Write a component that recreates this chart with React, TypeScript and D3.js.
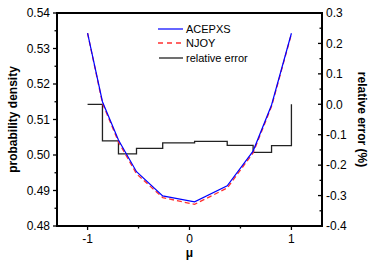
import React from "react";
import * as d3 from "d3";

const W = 378;
const H = 265;

const mu = [-1, -0.854, -0.697, -0.52, -0.263, 0.05, 0.37, 0.624, 0.805, 1];
const acepxs = [0.5343, 0.515, 0.5042, 0.4953, 0.4885, 0.4868, 0.4913, 0.5011, 0.5141, 0.5343];
const njoy = [0.5343, 0.5146, 0.5037, 0.4947, 0.488, 0.4861, 0.4907, 0.5006, 0.5137, 0.5341];
// relative error per bin (bin i spans mu[i]..mu[i+1]), final value at mu=1
const relErr = [0.0, -0.12, -0.163, -0.145, -0.127, -0.122, -0.135, -0.158, -0.136, 0.0];

const xMajor = [-1, 0, 1];
const xMinor = [-0.5, 0.5];
const yLeftMajor = [0.48, 0.49, 0.5, 0.51, 0.52, 0.53, 0.54];
const yLeftMinor = [0.485, 0.495, 0.505, 0.515, 0.525, 0.535];
const yRightMajor = [-0.4, -0.3, -0.2, -0.1, 0.0, 0.1, 0.2, 0.3];
const yRightMinor = [-0.35, -0.25, -0.15, -0.05, 0.05, 0.15, 0.25];

const L = 57, R = 322, T = 13, B = 226;

export default function App() {
  const x = d3.scaleLinear().domain([-1.3, 1.3]).range([L, R]);
  const yl = d3.scaleLinear().domain([0.48, 0.54]).range([B, T]);
  const yr = d3.scaleLinear().domain([-0.4, 0.3]).range([B, T]);

  const lineA = d3.line<number>().x((_, i) => x(mu[i])).y((d) => yl(d))(acepxs) || "";
  const lineN = d3.line<number>().x((_, i) => x(mu[i])).y((d) => yl(d))(njoy) || "";
  const lineE =
    d3
      .line<number>()
      .x((_, i) => x(mu[i]))
      .y((d) => yr(d))
      .curve(d3.curveStepAfter)(relErr) || "";

  const font = "Arial, 'Liberation Sans', Helvetica, sans-serif";
  const fmt2 = (v: number) => v.toFixed(2);
  const fmt1 = (v: number) => (Math.abs(v) < 1e-9 ? "0.0" : v.toFixed(1));

  return (
    <svg
      width={W}
      height={H}
      style={{ position: "absolute", left: 0, top: 0, background: "#fff" }}
      fontFamily={font}
    >
      <rect x={0} y={0} width={W} height={H} fill="#fff" />
      <g>
        <path d={lineE} fill="none" stroke="#222" strokeWidth={1.3} />
        <path d={lineN} fill="none" stroke="#ff3030" strokeWidth={1.3} strokeDasharray="5,3" />
        <path d={lineA} fill="none" stroke="#0000ff" strokeWidth={1.2} />
      </g>

      {/* frame */}
      <rect x={L} y={T} width={R - L} height={B - T} fill="none" stroke="#000" strokeWidth={2} />

      {/* bottom ticks */}
      {xMajor.map((v) => (
        <g key={"xm" + v}>
          <line x1={x(v)} x2={x(v)} y1={B} y2={B + 4} stroke="#000" strokeWidth={1.3} />
          <text x={x(v)} y={243} fontSize={12} textAnchor="middle">
            {v === -1 ? "-1" : String(v)}
          </text>
        </g>
      ))}
      {xMinor.map((v) => (
        <line key={"xn" + v} x1={x(v)} x2={x(v)} y1={B} y2={B + 2.5} stroke="#000" strokeWidth={1.3} />
      ))}

      {/* left ticks */}
      {yLeftMajor.map((v) => (
        <g key={"yl" + v}>
          <line x1={L - 4} x2={L} y1={yl(v)} y2={yl(v)} stroke="#000" strokeWidth={1.3} />
          <text x={50} y={yl(v) + 4.3} fontSize={12} textAnchor="end">
            {fmt2(v)}
          </text>
        </g>
      ))}
      {yLeftMinor.map((v) => (
        <line key={"yln" + v} x1={L - 2.5} x2={L} y1={yl(v)} y2={yl(v)} stroke="#000" strokeWidth={1.3} />
      ))}

      {/* right ticks */}
      {yRightMajor.map((v) => (
        <g key={"yr" + v}>
          <line x1={R - 4} x2={R} y1={yr(v)} y2={yr(v)} stroke="#000" strokeWidth={1.3} />
          <text x={326} y={yr(v) + 4.3} fontSize={12} textAnchor="start">
            {fmt1(v)}
          </text>
        </g>
      ))}
      {yRightMinor.map((v) => (
        <line key={"yrn" + v} x1={R - 2.5} x2={R} y1={yr(v)} y2={yr(v)} stroke="#000" strokeWidth={1.3} />
      ))}

      {/* axis titles */}
      <text
        transform={`translate(17,${(T + B) / 2 + 0}) rotate(-90)`}
        fontSize={12}
        fontWeight="bold"
        textAnchor="middle"
      >
        probability density
      </text>
      <text
        transform={`translate(358,${(T + B) / 2}) rotate(90)`}
        fontSize={12}
        fontWeight="bold"
        textAnchor="middle"
      >
        relative error (%)
      </text>
      <text x={x(0)} y={257} fontSize={12} fontWeight="bold" textAnchor="middle">
        μ
      </text>

      {/* legend */}
      <line x1={158} x2={183} y1={29} y2={29} stroke="#0000ff" strokeWidth={1.2} />
      <text x={186} y={33} fontSize={11}>ACEPXS</text>
      <line x1={158} x2={183} y1={43} y2={43} stroke="#ff3030" strokeWidth={1.3} strokeDasharray="5,4" />
      <text x={186} y={47} fontSize={11}>NJOY</text>
      <line x1={159} x2={183} y1={58} y2={58} stroke="#222" strokeWidth={1.3} />
      <text x={186} y={62} fontSize={11}>relative error</text>
    </svg>
  );
}
